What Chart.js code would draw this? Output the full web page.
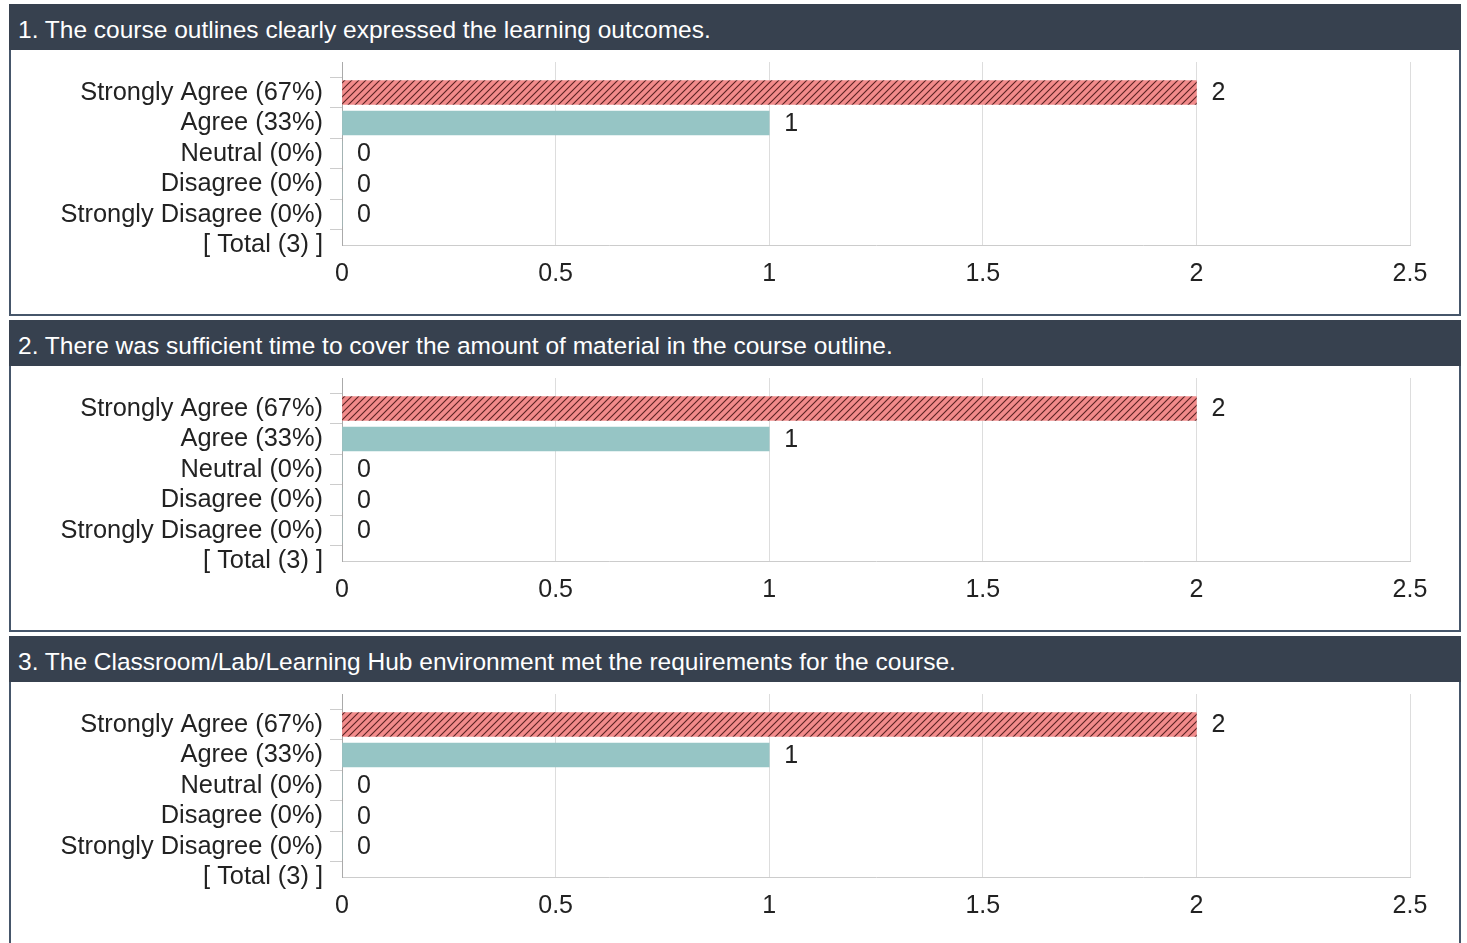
<!DOCTYPE html>
<html>
<head>
<meta charset="utf-8">
<script src="https://cdn.jsdelivr.net/npm/chart.js@4"></script>
<style>
  body { margin: 0; background: #fff; font-family: "Liberation Sans", Arial, sans-serif; }
  #wrap { position: absolute; left: 9px; top: 4px; width: 1452px; }
  .panel { margin-bottom: 4px; }
  .head { height: 46px; background: #37414f; color: #fff; font-size: 24.5px; line-height: 52px; padding-left: 9px; white-space: nowrap; }
  .body { border: 2px solid #46566a; border-top: none; height: 264px; position: relative; }
  .body canvas { display: block; }
</style>
</head>
<body>
<div id="wrap"></div>
<script>
// ----------- DATA -----------
const questions = [
  "1. The course outlines clearly expressed the learning outcomes.",
  "2. There was sufficient time to cover the amount of material in the course outline.",
  "3. The Classroom/Lab/Learning Hub environment met the requirements for the course."
];
const categories = ["", "Strongly Agree (67%)", "Agree (33%)", "Neutral (0%)", "Disagree (0%)", "Strongly Disagree (0%)", "[ Total (3) ]"];
const q1Values = [null, 2, 1, 0, 0, 0, null];
const q2Values = [null, 2, 1, 0, 0, 0, null];
const q3Values = [null, 2, 1, 0, 0, 0, null];
const xTicks = [0, 0.5, 1, 1.5, 2, 2.5];
const allValues = [q1Values, q2Values, q3Values];

const FONT = '"Liberation Sans", Arial, sans-serif';

// ----------- HATCH PATTERN -----------
function makeHatch() {
  const s = 7;
  const c = document.createElement('canvas');
  c.width = s; c.height = s;
  const g = c.getContext('2d');
  g.fillStyle = '#f28b8b';
  g.fillRect(0, 0, s, s);
  g.strokeStyle = '#5a2222';
  g.lineWidth = 1.1;
  g.beginPath();
  g.moveTo(0, s); g.lineTo(s, 0);
  g.moveTo(-1, 1); g.lineTo(1, -1);
  g.moveTo(s - 1, s + 1); g.lineTo(s + 1, s - 1);
  g.stroke();
  return g.createPattern(c, 'repeat');
}

// ----------- VALUE LABELS -----------
const valueLabels = {
  id: 'valueLabels',
  afterDatasetsDraw(chart) {
    const ctx = chart.ctx;
    const meta = chart.getDatasetMeta(0);
    const data = chart.data.datasets[0].data;
    ctx.save();
    ctx.font = '25px ' + FONT;
    ctx.fillStyle = '#222';
    ctx.textAlign = 'left';
    ctx.textBaseline = 'middle';
    meta.data.forEach((bar, i) => {
      if (data[i] === null) return;
      ctx.fillText(String(data[i]), bar.x + 15, bar.y + 1);
    });
    ctx.restore();
  }
};

const wrap = document.getElementById('wrap');
const hatch = makeHatch();

questions.forEach((q, qi) => {
  const panel = document.createElement('div');
  panel.className = 'panel';
  panel.innerHTML = '<div class="head"></div><div class="body"><canvas width="1448" height="264"></canvas></div>';
  panel.querySelector('.head').textContent = q;
  wrap.appendChild(panel);
  const canvas = panel.querySelector('canvas');

  new Chart(canvas.getContext('2d'), {
    type: 'bar',
    data: {
      labels: categories,
      datasets: [{
        data: allValues[qi],
        backgroundColor: [null, hatch, '#96c5c5', '#96c5c5', '#96c5c5', '#96c5c5', null],
        barThickness: 24,
        borderWidth: 0
      }]
    },
    plugins: [valueLabels],
    options: {
      indexAxis: 'y',
      responsive: false,
      animation: false,
      layout: { padding: { top: 12, right: 49, left: 0, bottom: 0 } },
      plugins: { legend: { display: false }, tooltip: { enabled: false } },
      scales: {
        x: {
          min: 0, max: 2.5,
          afterBuildTicks(axis) { axis.ticks = xTicks.map(v => ({ value: v })); },
          afterFit(axis) { axis.height = 69; axis.paddingLeft = 0; axis.paddingRight = 0; },
          grid: { color: '#dddddd', drawTicks: false },
          border: { color: '#cccccc' },
          ticks: { color: '#222', padding: 14, callback: v => String(v), font: { size: 25, family: FONT } }
        },
        y: {
          offset: false,
          afterFit(axis) { axis.width = 331; axis.paddingTop = 0; axis.paddingBottom = 0; },
          grid: { drawOnChartArea: false, drawTicks: true, tickLength: 12, color: '#cccccc' },
          border: { color: '#aaaaaa' },
          ticks: { color: '#222', padding: 7, autoSkip: false, font: { size: 25.4, family: FONT } }
        }
      }
    }
  });
});
</script>
</body>
</html>
